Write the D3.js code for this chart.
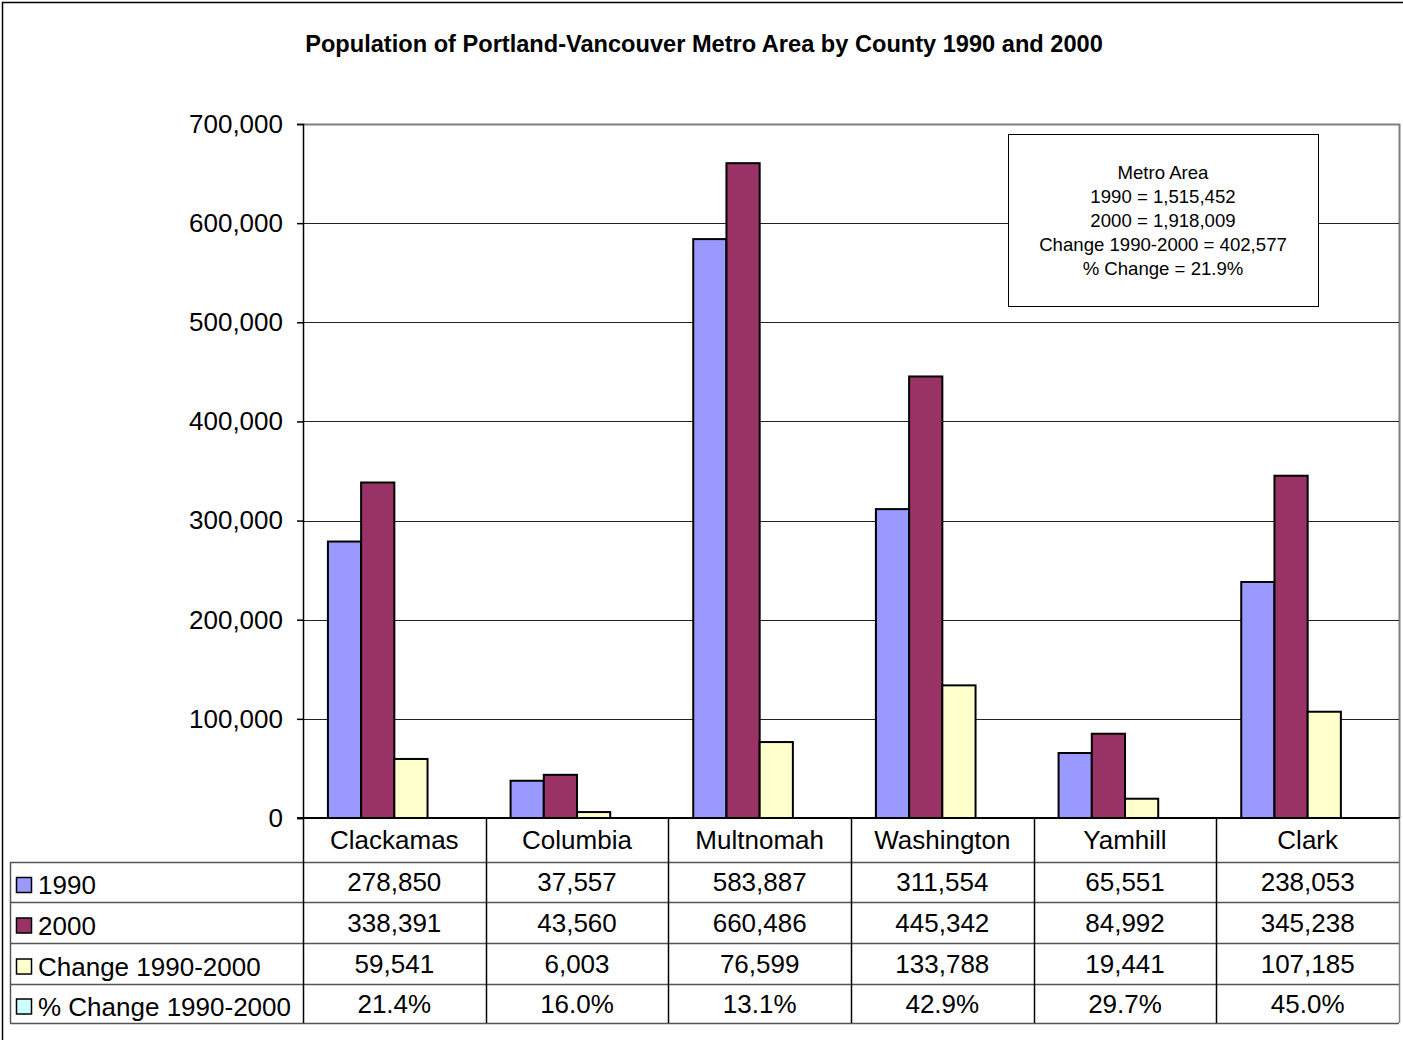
<!DOCTYPE html>
<html>
<head>
<meta charset="utf-8">
<script src="https://cdn.jsdelivr.net/npm/d3@7"></script>
<style>
  html, body { margin: 0; padding: 0; background: #fff; }
  svg { display: block; font-family: "Liberation Sans", Arial, sans-serif; }
</style>
</head>
<body>
<svg id="chart" width="1403" height="1040"></svg>
<script>
// chart data
const counties = ["Clackamas", "Columbia", "Multnomah", "Washington", "Yamhill", "Clark"];
const seriesNames = ["1990", "2000", "Change 1990-2000", "% Change 1990-2000"];
const pop1990 = [278850, 37557, 583887, 311554, 65551, 238053];
const pop2000 = [338391, 43560, 660486, 445342, 84992, 345238];
const change = [59541, 6003, 76599, 133788, 19441, 107185];
const pctChange = [21.4, 16.0, 13.1, 42.9, 29.7, 45.0];
const yTicks = [0, 100000, 200000, 300000, 400000, 500000, 600000, 700000];
const metroLines = [
  "Metro Area",
  "1990 = 1,515,452",
  "2000 = 1,918,009",
  "Change 1990-2000 = 402,577",
  "% Change = 21.9%"
];

const seriesValues = [pop1990, pop2000, change, pctChange];
const seriesColors = ["#9999ff", "#993366", "#ffffcc", "#ccffff"];

const plotLeft = 303, plotRight = 1399, plotTop = 124, plotBottom = 818;
const rowYs = [862, 902, 943, 984, 1023];
const bodySize = 26;

const svg = d3.select("#chart");

// outer frame
svg.append("rect")
  .attr("x", 2.5).attr("y", 2.5)
  .attr("width", 1410).attr("height", 1050)
  .attr("fill", "#fff")
  .attr("stroke", "#000")
  .attr("stroke-width", 1.5);

svg.append("text")
  .attr("x", 704)
  .attr("y", 44)
  .attr("dy", "0.35em")
  .attr("text-anchor", "middle")
  .attr("font-weight", "bold")
  .attr("font-size", 23.6)
  .text("Population of Portland-Vancouver Metro Area by County 1990 and 2000");

const x = d3.scaleBand()
  .domain(counties)
  .range([plotLeft, plotRight])
  .padding(0);

const step = x.bandwidth();
const gap = step * 0.75 / 5.5;

const xSub = d3.scaleBand()
  .domain(seriesNames)
  .range([gap, step - gap]);

const y = d3.scaleLinear()
  .domain([0, 700000])
  .range([plotBottom, plotTop]);

// plot area border (gray top and right)
svg.append("path")
  .attr("d", `M${plotLeft},${plotTop + 0.5}H${plotRight + 0.5}V${plotBottom}`)
  .attr("fill", "none")
  .attr("stroke", "#808080")
  .attr("stroke-width", 2);

// gridlines
svg.append("g")
  .selectAll("line")
  .data(yTicks.filter(d => d > 0 && d < 700000))
  .enter()
  .append("line")
  .attr("x1", plotLeft)
  .attr("x2", plotRight)
  .attr("y1", d => Math.round(y(d)) + 0.5)
  .attr("y2", d => Math.round(y(d)) + 0.5)
  .attr("stroke", "#222")
  .attr("stroke-width", 1);

// y axis
const yAxis = d3.axisLeft(y)
  .tickValues(yTicks)
  .tickFormat(d3.format(","))
  .tickSize(6)
  .tickPadding(14);

const yG = svg.append("g")
  .attr("transform", `translate(${plotLeft},0)`)
  .call(yAxis);

yG.select(".domain").attr("stroke", "#000").attr("stroke-width", 1.5);
yG.selectAll(".tick line").attr("stroke", "#000").attr("stroke-width", 1.5);
yG.selectAll(".tick text")
  .attr("font-family", "Liberation Sans, Arial, sans-serif")
  .attr("font-size", bodySize)
  .attr("fill", "#000");

// bars
const groups = svg.append("g")
  .selectAll("g")
  .data(counties)
  .enter()
  .append("g")
  .attr("transform", d => `translate(${x(d)},0)`);

groups.selectAll("rect")
  .data((d, i) => seriesNames.slice(0, 3).map((s, j) => ({ s, v: seriesValues[j][i], c: seriesColors[j] })))
  .enter()
  .append("rect")
  .attr("x", d => xSub(d.s))
  .attr("y", d => y(d.v))
  .attr("width", xSub.bandwidth())
  .attr("height", d => plotBottom - y(d.v))
  .attr("fill", d => d.c)
  .attr("stroke", "#000")
  .attr("stroke-width", 2);

// baseline
svg.append("line")
  .attr("x1", plotLeft - 6).attr("x2", plotRight + 1)
  .attr("y1", plotBottom).attr("y2", plotBottom)
  .attr("stroke", "#000")
  .attr("stroke-width", 2);

// metro area text box
const box = svg.append("g");
box.append("rect")
  .attr("x", 1008.5).attr("y", 134.5)
  .attr("width", 310).attr("height", 172)
  .attr("fill", "#fff")
  .attr("stroke", "#000")
  .attr("stroke-width", 1);

box.selectAll("text")
  .data(metroLines)
  .enter()
  .append("text")
  .attr("x", 1163)
  .attr("y", (d, i) => 172 + i * 24)
  .attr("dy", "0.35em")
  .attr("text-anchor", "middle")
  .attr("font-size", 18.6)
  .text(d => d);

// data table
const table = svg.append("g");

table.selectAll("line.row")
  .data(rowYs)
  .enter()
  .append("line")
  .attr("class", "row")
  .attr("x1", 10).attr("x2", plotRight)
  .attr("y1", d => d + 0.5).attr("y2", d => d + 0.5)
  .attr("stroke", "#555")
  .attr("stroke-width", 1.5);

const colXs = counties.map(c => x(c)).concat([plotRight]);
table.selectAll("line.col")
  .data(colXs)
  .enter()
  .append("line")
  .attr("class", "col")
  .attr("x1", d => Math.round(d) + 0.5).attr("x2", d => Math.round(d) + 0.5)
  .attr("y1", plotBottom).attr("y2", rowYs[4])
  .attr("stroke", (d, i) => i === colXs.length - 1 ? "#808080" : "#000")
  .attr("stroke-width", 1.5);

table.append("line")
  .attr("x1", 10.5).attr("x2", 10.5)
  .attr("y1", rowYs[0]).attr("y2", rowYs[4])
  .attr("stroke", "#555")
  .attr("stroke-width", 1.5);

// category header
table.selectAll("text.cat")
  .data(counties)
  .enter()
  .append("text")
  .attr("class", "cat")
  .attr("x", d => x(d) + step / 2)
  .attr("y", (plotBottom + rowYs[0]) / 2)
  .attr("dy", "0.35em")
  .attr("text-anchor", "middle")
  .attr("font-size", bodySize)
  .text(d => d);

const fmtNum = d3.format(",");
const fmtCell = (j, v) => j === 3 ? v.toFixed(1) + "%" : fmtNum(v);

seriesNames.forEach((name, j) => {
  const cy = (rowYs[j] + rowYs[j + 1]) / 2;

  table.append("rect")
    .attr("x", 16.5).attr("y", cy - 4.5)
    .attr("width", 15).attr("height", 15)
    .attr("fill", seriesColors[j])
    .attr("stroke", "#000")
    .attr("stroke-width", 1.5);

  table.append("text")
    .attr("x", 38)
    .attr("y", cy + 3)
    .attr("dy", "0.35em")
    .attr("font-size", bodySize)
    .text(name);

  table.selectAll(null)
    .data(counties)
    .enter()
    .append("text")
    .attr("x", d => x(d) + step / 2)
    .attr("y", cy)
    .attr("dy", "0.35em")
    .attr("text-anchor", "middle")
    .attr("font-size", bodySize)
    .text((d, i) => fmtCell(j, seriesValues[j][i]));
});
</script>
</body>
</html>
